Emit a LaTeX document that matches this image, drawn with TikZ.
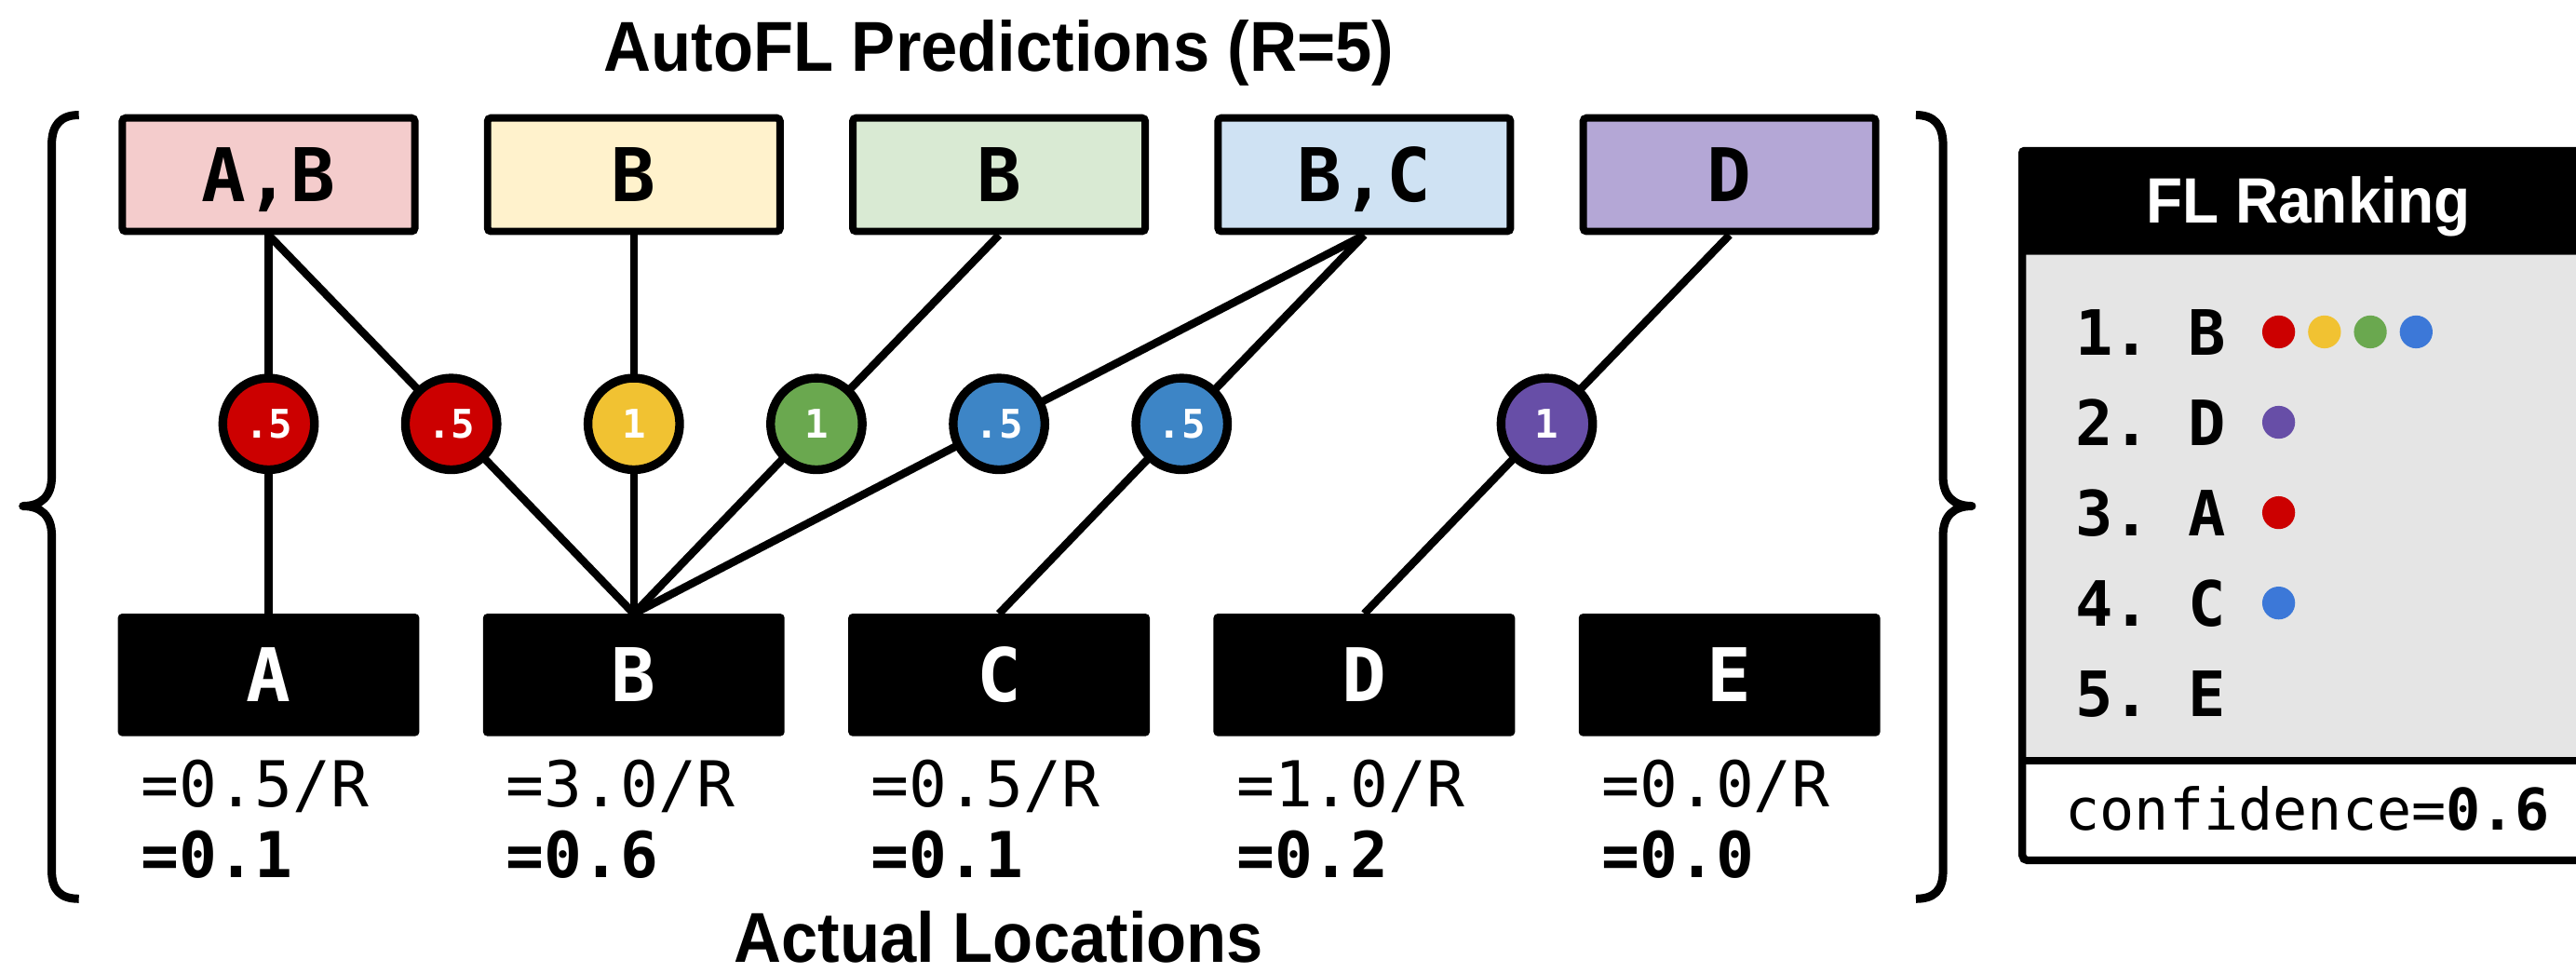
\documentclass[tikz,border=0pt]{standalone}
\usepackage{fontspec}
\setmainfont{Liberation Sans}
\setmonofont{DejaVu Sans Mono}
\newfontfamily\headfont[FakeStretch=0.93]{Liberation Sans}
\usetikzlibrary{backgrounds}

\definecolor{cRed}{HTML}{CC0000}
\definecolor{cYel}{HTML}{F1C232}
\definecolor{cGrn}{HTML}{6AA84F}
\definecolor{cBlu}{HTML}{3D85C6}
\definecolor{cPur}{HTML}{674EA7}
\definecolor{dBlu}{HTML}{3C78D8}
\definecolor{fRed}{HTML}{F4CCCC}
\definecolor{fYel}{HTML}{FFF2CC}
\definecolor{fGrn}{HTML}{D9EAD3}
\definecolor{fBlu}{HTML}{CFE2F3}
\definecolor{fPur}{HTML}{B4A7D6}
\definecolor{panelgray}{HTML}{E5E5E5}

\begin{document}
\begin{tikzpicture}[x=1pt,y=-1pt,
  pred/.style={draw, line width=4.5pt, rounded corners=2pt, minimum width=178pt,
    minimum height=69pt, inner sep=0pt, text height=33pt, text depth=0pt,
    font=\fontsize{45}{45}\ttfamily\bfseries},
  loc/.style={fill=black, rounded corners=2.5pt, minimum width=183.5pt,
    minimum height=74.5pt, inner sep=0pt, outer sep=0pt, text=white,
    text height=33pt, text depth=0pt, font=\fontsize{45}{45}\ttfamily\bfseries},
  vote/.style={circle, draw, line width=5.3pt, minimum size=55.8pt, inner sep=0pt,
    text=white, text height=17.5pt, text depth=0pt,
    font=\fontsize{24}{24}\ttfamily\bfseries},
  link/.style={line width=4.8pt},
  brace/.style={line width=5.1pt, line join=round},
  score/.style={anchor=base west, inner sep=0pt, font=\fontsize{38.5}{38.5}\ttfamily},
  scorebf/.style={score, font=\fontsize{38.5}{38.5}\ttfamily\bfseries},
  heading/.style={anchor=base, inner sep=0pt, font=\headfont\bfseries\fontsize{43}{43}\selectfont},
  rank/.style={anchor=base west, inner sep=0pt, font=\fontsize{38}{38}\ttfamily\bfseries},
  dot/.style={circle, inner sep=0pt, minimum size=20pt}
]
\useasboundingbox (0,0) rectangle (1568,592);

% headings
\node[heading] (title) at (608,43.6) {AutoFL Predictions (R=5)};
\node[heading] (actual) at (608,585.5) {Actual Locations};

% predictions (top row)
\node[pred, fill=fRed] (p1) at (163.5,106.3) {A,B};
\node[pred, fill=fYel] (p2) at (385.8,106.3) {B};
\node[pred, fill=fGrn] (p3) at (608.1,106.3) {B};
\node[pred, fill=fBlu] (p4) at (830.4,106.3) {B,C};
\node[pred, fill=fPur] (p5) at (1052.7,106.3) {D};

% actual locations (bottom row)
\node[loc] (lA) at (163.5,410.75) {A};
\node[loc] (lB) at (385.8,410.75) {B};
\node[loc] (lC) at (608.1,410.75) {C};
\node[loc] (lD) at (830.4,410.75) {D};
\node[loc] (lE) at (1052.7,410.75) {E};

% vote weights
\node[vote, fill=cRed] (v1) at (163.5,258) {.5};
\node[vote, fill=cRed] (v2) at (274.65,258) {.5};
\node[vote, fill=cYel] (v3) at (385.8,258) {1};
\node[vote, fill=cGrn] (v4) at (496.95,258) {1};
\node[vote, fill=cBlu] (v5) at (608.1,258) {.5};
\node[vote, fill=cBlu] (v6) at (719.25,258) {.5};
\node[vote, fill=cPur] (v7) at (941.55,258) {1};

% connectors behind the vote circles
\begin{scope}[on background layer]
  \draw[link] (p1.south) -- (v1.center) -- (lA.north);
  \draw[link] (p1.south) -- (v2.center) -- (lB.north);
  \draw[link] (p2.south) -- (v3.center) -- (lB.north);
  \draw[link] (p3.south) -- (v4.center) -- (lB.north);
  \draw[link] (p4.south) -- (v5.center) -- (lB.north);
  \draw[link] (p4.south) -- (v6.center) -- (lC.north);
  \draw[link] (p5.south) -- (v7.center) -- (lD.north);
\end{scope}

% scores below each location
\node[score]   (sA1) at (85.5,491) {=0.5/R};
\node[scorebf] (sA2) at (85.5,534) {=0.1};
\node[score]   (sB1) at (307.8,491) {=3.0/R};
\node[scorebf] (sB2) at (307.8,534) {=0.6};
\node[score]   (sC1) at (530.1,491) {=0.5/R};
\node[scorebf] (sC2) at (530.1,534) {=0.1};
\node[score]   (sD1) at (752.4,491) {=1.0/R};
\node[scorebf] (sD2) at (752.4,534) {=0.2};
\node[score]   (sE1) at (974.7,491) {=0.0/R};
\node[scorebf] (sE2) at (974.7,534) {=0.0};

% curly braces around the vote graph
\draw[brace] (48,70) .. controls (37,70) and (31.5,76) .. (31.5,88)
  -- (31.5,290) .. controls (31.5,302) and (25,308) .. (14,308)
  .. controls (25,308) and (31.5,314) .. (31.5,326)
  -- (31.5,530) .. controls (31.5,542) and (37,547) .. (48,547);
\draw[brace] (1166.2,70) .. controls (1177.2,70) and (1182.7,76) .. (1182.7,88)
  -- (1182.7,290) .. controls (1182.7,302) and (1189.2,308) .. (1200.2,308)
  .. controls (1189.2,308) and (1182.7,314) .. (1182.7,326)
  -- (1182.7,530) .. controls (1182.7,542) and (1177.2,547) .. (1166.2,547);

% ranking panel
\fill[panelgray] (1231,155) rectangle (1600,463);
\fill[black, rounded corners=3pt] (1228.65,89.5) rectangle (1600,155);
\draw[line width=4.7pt, rounded corners=3pt] (1231,150) -- (1231,523.6) -- (1600,523.6);
\draw[line width=4.7pt] (1231,463) -- (1600,463);
\node[heading, text=white, font=\headfont\bfseries\fontsize{39}{39}\selectfont]
  (rankhead) at (1405,135.5) {FL Ranking};

\node[rank] (r1) at (1263,216) {1.\ B};
\node[rank] (r2) at (1263,271) {2.\ D};
\node[rank] (r3) at (1263,326) {3.\ A};
\node[rank] (r4) at (1263,381) {4.\ C};
\node[rank] (r5) at (1263,436) {5.\ E};

\node[dot, fill=cRed] (d1a) at (1387,202) {};
\node[dot, fill=cYel] (d1b) at (1414.9,202) {};
\node[dot, fill=cGrn] (d1c) at (1442.8,202) {};
\node[dot, fill=dBlu] (d1d) at (1470.7,202) {};
\node[dot, fill=cPur] (d2)  at (1387,257) {};
\node[dot, fill=cRed] (d3)  at (1387,312) {};
\node[dot, fill=dBlu] (d4)  at (1387,367) {};

\node[score, font=\fontsize{35}{35}\ttfamily] (conf) at (1257,505) {confidence=\textbf{0.6}};
\end{tikzpicture}
\end{document}
